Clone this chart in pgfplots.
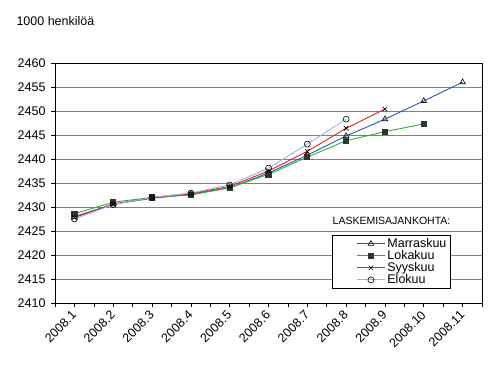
\documentclass[border=0pt]{standalone}
\usepackage{pgfplots}
\pgfplotsset{compat=1.18}
\usepackage{fontspec}
\setmainfont{Liberation Sans}
\definecolor{cblue}{HTML}{1F5FB0}
\definecolor{cgreen}{HTML}{30B030}
\definecolor{cred}{HTML}{E82020}
\definecolor{clight}{HTML}{A0B0E8}
\definecolor{cgrid}{HTML}{808080}
\begin{document}
\begin{tikzpicture}
\path[use as bounding box] (0,0) rectangle (495pt,370pt);
\node[anchor=west,font=\fontsize{12.5}{14}\selectfont] at (13pt,349pt) {1000 henkilöä};
\begin{axis}[
  at={(55pt,67pt)}, anchor=south west,
  scale only axis, width=427pt, height=240pt,
  xmin=-0.5, xmax=10.5, ymin=2410, ymax=2460,
  xtick={0,...,10},
  minor xtick={-0.5,0.5,...,10.5},
  xticklabels={2008.1,2008.2,2008.3,2008.4,2008.5,2008.6,2008.7,2008.8,2008.9,2008.10,2008.11},
  ytick={2410,2415,...,2460},
  /pgf/number format/assume math mode=true,
  /pgf/number format/1000 sep={},
  tick label style={font=\fontsize{12.5}{14}\selectfont},
  xticklabel style={rotate=45, anchor=east, xshift=-1pt, yshift=-4pt},
  yticklabel style={xshift=-2pt},
  tick align=outside,
  major tick length=4pt, minor tick length=4pt,
  tick style={black, line width=0.6pt},
  xtick pos=bottom, ytick pos=left,
  ymajorgrids, grid style={cgrid, line width=0.8pt},
  axis line style={black, line width=0.8pt},
  legend cell align=left,
  legend style={at={(0.927,0.283)}, anchor=north east, draw=black, line width=0.8pt,
    font=\fontsize{12.5}{13}\selectfont, inner xsep=2pt, inner ysep=1pt, row sep=-2.5pt},
  legend image code/.code={\path (-22pt,0pt); \draw[#1, mark repeat=2, mark phase=2] plot coordinates {(0pt,0pt)(14pt,0pt)(28pt,0pt)};},
  every axis plot/.append style={line width=0.9pt},
]
\addplot[cblue, mark=triangle, mark size=3.2pt, mark options={black, fill=white, line width=0.6pt}]
 coordinates {(0,2428.0)(1,2430.6)(2,2431.8)(3,2432.7)(4,2434.0)(5,2437.1)(6,2440.8)(7,2444.8)(8,2448.3)(9,2452.1)(10,2456.0)};
\addplot[cgreen, mark=square*, mark size=2.6pt, mark options={draw=black!80, fill=black!80}]
 coordinates {(0,2428.6)(1,2431.0)(2,2432.0)(3,2432.5)(4,2434.0)(5,2436.8)(6,2440.4)(7,2443.8)(8,2445.7)(9,2447.3)};
\addplot[cred, mark=x, mark size=3.2pt, mark options={black, line width=0.6pt}]
 coordinates {(0,2427.8)(1,2430.6)(2,2432.0)(3,2432.8)(4,2434.3)(5,2437.5)(6,2441.6)(7,2446.4)(8,2450.4)};
\addplot[clight, mark=o, mark size=3pt, mark options={black, fill=white, line width=0.6pt}]
 coordinates {(0,2427.5)(1,2430.5)(2,2432.0)(3,2432.9)(4,2434.6)(5,2438.1)(6,2443.1)(7,2448.3)};
\legend{Marraskuu,Lokakuu,Syyskuu,Elokuu}
\node[anchor=west, font=\fontsize{10.5}{12}\selectfont] at (rel axis cs:0.642,0.342) {LASKEMISAJANKOHTA:};
\end{axis}
\end{tikzpicture}
\end{document}
